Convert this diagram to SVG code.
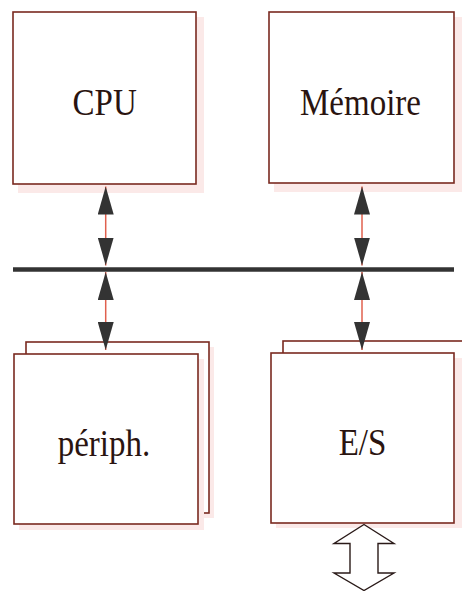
<svg xmlns="http://www.w3.org/2000/svg" width="462" height="591" viewBox="0 0 462 591">
<style>
.box{fill:#fff;stroke:#7a2a20;stroke-width:1.6}
.shadow{fill:#fbe9e8;stroke:none}
.lbl{font-family:"Liberation Serif","Times New Roman",serif;font-size:33px;fill:#2a1410;text-anchor:middle}
.wire{stroke:#e0604e;stroke-width:1.5;fill:none}
.bus{stroke:#333;stroke-width:4.5}
.hollow{fill:#fff;stroke:#2a1a18;stroke-width:1.4;stroke-linejoin:miter}
</style>
<defs>
<marker id="ah" viewBox="0 0 28 16" refX="28" refY="8" markerWidth="28" markerHeight="16" markerUnits="userSpaceOnUse" orient="auto-start-reverse">
<path d="M0,0 L28,8 L0,16 z" fill="#333"/>
</marker>
</defs>
<rect width="462" height="591" fill="#fff"/>
<g id="cpu">
<rect class="shadow" x="18" y="17" width="186" height="176"/>
<rect class="box" x="13" y="12" width="183" height="172"/>
<text class="lbl" transform="translate(104.7,115) scale(1,1.17)">CPU</text>
</g>
<g id="memoire">
<rect class="shadow" x="274" y="17" width="188" height="175"/>
<rect class="box" x="269" y="12" width="185" height="171"/>
<text class="lbl" transform="translate(360.5,115) scale(1,1.17)">Mémoire</text>
</g>
<g id="periph">
<rect class="shadow" x="31" y="347" width="183" height="171"/>
<rect class="box" x="26" y="342" width="183" height="171"/>
<rect class="shadow" x="19" y="359" width="185" height="171"/>
<rect class="box" x="14" y="354" width="184" height="170"/>
<text class="lbl" transform="translate(104,456) scale(1,1.17)">périph.</text>
</g>
<g id="es">
<rect class="shadow" x="288" y="346" width="190" height="172"/>
<rect class="box" x="283" y="341" width="190" height="172"/>
<rect class="shadow" x="276" y="358" width="186" height="170"/>
<rect class="box" x="271" y="353" width="183" height="170"/>
<text class="lbl" transform="translate(362.5,455) scale(1,1.17)">E/S</text>
</g>
<g id="connectors">
<line class="bus" x1="13" y1="269.5" x2="454" y2="269.5"/>
<line class="wire" x1="105.7" y1="186.5" x2="105.7" y2="265.5" marker-start="url(#ah)" marker-end="url(#ah)"/>
<line class="wire" x1="105.7" y1="272" x2="105.7" y2="350" marker-start="url(#ah)" marker-end="url(#ah)"/>
<line class="wire" x1="362" y1="186.5" x2="362" y2="265.5" marker-start="url(#ah)" marker-end="url(#ah)"/>
<line class="wire" x1="362" y1="272" x2="362" y2="350" marker-start="url(#ah)" marker-end="url(#ah)"/>
<path class="hollow" d="M364,524.5 L394,543.5 L378,543.5 L378,573 L394,573 L364,590.5 L334,573 L350,573 L350,543.5 L334,543.5 Z"/>
</g>
</svg>
